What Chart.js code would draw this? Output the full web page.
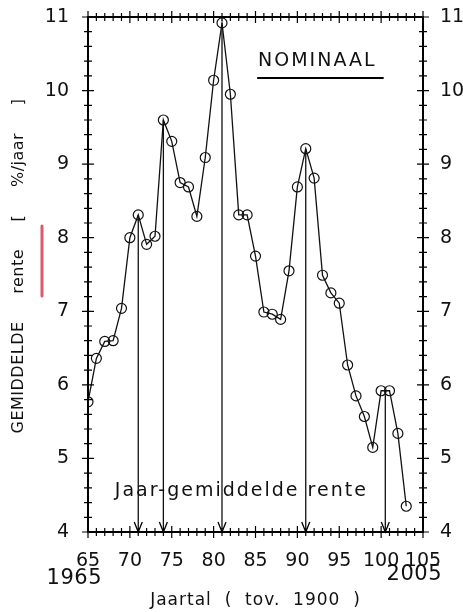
<!DOCTYPE html>
<html>
<head>
<meta charset="utf-8">
<script src="https://cdn.jsdelivr.net/npm/chart.js@4"></script>
<style>
  html, body { margin: 0; padding: 0; background: #fff; }
  #wrap { width: 463px; height: 612px; }
</style>
</head>
<body>
<div id="wrap"><canvas id="rente"></canvas></div>
<script>
// jaartal (tov. 1900) en gemiddelde rente in %/jaar
const jaren = [65, 66, 67, 68, 69, 70, 71, 72, 73, 74, 75, 76, 77, 78, 79, 80, 81, 82, 83, 84,
    85, 86, 87, 88, 89, 90, 91, 92, 93, 94, 95, 96, 97, 98, 99, 100, 101, 102, 103];
const rente = [5.77, 6.36, 6.59, 6.60, 7.04, 8.00, 8.31, 7.91, 8.02, 9.60, 9.31, 8.75, 8.69, 8.29,
    9.09, 10.14, 10.92, 9.95, 8.31, 8.31, 7.75, 6.99, 6.96, 6.89, 7.55, 8.69, 9.21, 8.81, 7.49,
    7.25, 7.11, 6.27, 5.85, 5.57, 5.15, 5.92, 5.92, 5.34, 4.35];

// pijlen naar de as
const pijlJaren = [71, 74, 81, 91, 100.5];
const pijlRente = [8.31, 9.60, 10.92, 9.21, 5.92];

const jaarTicks = [65, 70, 75, 80, 85, 90, 95, 100, 105];
const renteTicks = [4, 5, 6, 7, 8, 9, 10, 11];

const font = "'DejaVu Sans', sans-serif";

var punten = [];
for (var i in jaren) {
    punten.push({ x: jaren[i], y: rente[i] });
}

var datasets = [
    {
        label: "rente",
        data: punten,
        showLine: true,
        borderColor: "#111",
        borderWidth: 1.3,
        pointRadius: 5,
        pointBorderWidth: 1.2,
        pointBorderColor: "#111",
        pointBackgroundColor: "rgba(0,0,0,0)",
    },
];
for (var j in pijlJaren) {
    datasets.push({
        label: "pijl",
        data: [
            { x: pijlJaren[j], y: pijlRente[j] },
            { x: pijlJaren[j], y: renteTicks[0] },
        ],
        showLine: true,
        borderColor: "#111",
        borderWidth: 1.3,
        pointRadius: 0,
    });
}

// kader, kleine streepjes, pijlpunten en losse teksten
const kader = {
    id: "kader",
    afterDatasetsDraw: function (chart) {
        var ctx = chart.ctx;
        var a = chart.chartArea;
        var sx = chart.scales.x;
        var sy = chart.scales.y;
        ctx.save();
        ctx.strokeStyle = "#000";
        ctx.lineWidth = 2;
        ctx.strokeRect(a.left, a.top, a.right - a.left, a.bottom - a.top);

        ctx.lineWidth = 1.2;
        ctx.beginPath();
        for (var v = jaarTicks[0]; v <= jaarTicks[jaarTicks.length - 1]; v++) {
            var px = sx.getPixelForValue(v);
            var l = v % 5 === 0 ? 6 : 4;
            ctx.moveTo(px, a.top - l);
            ctx.lineTo(px, a.top + l);
            ctx.moveTo(px, a.bottom - l);
            ctx.lineTo(px, a.bottom + l);
        }
        for (var k = 0; k <= 35; k++) {
            var py = sy.getPixelForValue(4 + k * 0.2);
            var m = k % 5 === 0 ? 6 : 4;
            ctx.moveTo(a.left - m, py);
            ctx.lineTo(a.left + m, py);
            ctx.moveTo(a.right - m, py);
            ctx.lineTo(a.right + m, py);
        }
        ctx.stroke();

        // pijlpunten
        ctx.lineWidth = 1.3;
        ctx.beginPath();
        for (var p in pijlJaren) {
            var ax = sx.getPixelForValue(pijlJaren[p]);
            var ay = sy.getPixelForValue(renteTicks[0]);
            ctx.moveTo(ax - 4, ay - 10);
            ctx.lineTo(ax, ay);
            ctx.lineTo(ax + 4, ay - 10);
        }
        ctx.stroke();

        ctx.fillStyle = "#111";
        ctx.textBaseline = "middle";

        // NOMINAAL
        ctx.font = "19px " + font;
        ctx.letterSpacing = "2px";
        ctx.textAlign = "left";
        ctx.fillText("NOMINAAL", sx.getPixelForValue(85.3), sy.getPixelForValue(10.4));
        ctx.lineWidth = 2;
        ctx.beginPath();
        ctx.moveTo(sx.getPixelForValue(85.2), sy.getPixelForValue(10.17));
        ctx.lineTo(sx.getPixelForValue(100.3), sy.getPixelForValue(10.17));
        ctx.stroke();

        // Jaar-gemiddelde rente
        ctx.fillText("Jaar-gemiddelde rente", sx.getPixelForValue(68.2), sy.getPixelForValue(4.55));

        // 1965 / 2005
        ctx.font = "21px " + font;
        ctx.letterSpacing = "0.5px";
        ctx.textAlign = "right";
        ctx.fillText("1965", sx.getPixelForValue(65) + 14, 579);
        ctx.fillText("2005", sx.getPixelForValue(105) + 19, 575);

        // x-as titel
        ctx.font = "17px " + font;
        ctx.letterSpacing = "1px";
        ctx.textAlign = "center";
        ctx.fillText("Jaartal  (  tov.  1900  )", (a.left + a.right) / 2, 601);

        // y-as titel
        ctx.translate(19, 266);
        ctx.rotate(-Math.PI / 2);
        ctx.font = "16px " + font;
        ctx.letterSpacing = "0.5px";
        ctx.wordSpacing = "22px";
        ctx.fillText("GEMIDDELDE rente [ %/jaar ]", 0, 0);
        ctx.restore();

        // rode streep (pen)
        ctx.save();
        ctx.strokeStyle = "rgba(214, 60, 85, 0.85)";
        ctx.lineWidth = 3;
        ctx.lineCap = "round";
        ctx.beginPath();
        ctx.moveTo(42, 226);
        ctx.lineTo(42, 296);
        ctx.stroke();
        ctx.restore();
    },
};

var tickFont = { family: font, size: 19 };

function vastBreed(w) {
    return function (s) {
        s.width = w;
        s.paddingTop = 0;
        s.paddingBottom = 0;
    };
}

var ctx = document.getElementById("rente").getContext("2d");
var chart = new Chart(ctx, {
    type: "scatter",
    data: { datasets: datasets },
    plugins: [kader],
    options: {
        responsive: true,
        maintainAspectRatio: false,
        animation: false,
        layout: { padding: 0 },
        plugins: {
            legend: { display: false },
            tooltip: { enabled: false },
        },
        scales: {
            x: {
                type: "linear",
                position: "bottom",
                min: 65,
                max: 105,
                afterBuildTicks: function (s) {
                    s.ticks = jaarTicks.map(function (v) { return { value: v }; });
                },
                ticks: { color: "#111", font: tickFont, padding: 10, maxRotation: 0, autoSkip: false },
                grid: { display: false },
                border: { display: false },
                afterFit: function (s) { s.height = 80; },
            },
            xTop: {
                type: "linear",
                position: "top",
                min: 65,
                max: 105,
                ticks: { display: false },
                grid: { display: false },
                border: { display: false },
                afterFit: function (s) { s.height = 17; },
            },
            y: {
                position: "left",
                min: 4,
                max: 11,
                afterBuildTicks: function (s) {
                    s.ticks = renteTicks.map(function (v) { return { value: v }; });
                },
                ticks: { color: "#111", font: tickFont, padding: 11 },
                grid: { display: false },
                border: { display: false },
                afterFit: vastBreed(88),
            },
            yRight: {
                position: "right",
                min: 4,
                max: 11,
                afterBuildTicks: function (s) {
                    s.ticks = renteTicks.map(function (v) { return { value: v }; });
                },
                ticks: { color: "#111", font: tickFont, padding: 9 },
                grid: { display: false },
                border: { display: false },
                afterFit: vastBreed(40),
            },
        },
    },
});
</script>
</body>
</html>
